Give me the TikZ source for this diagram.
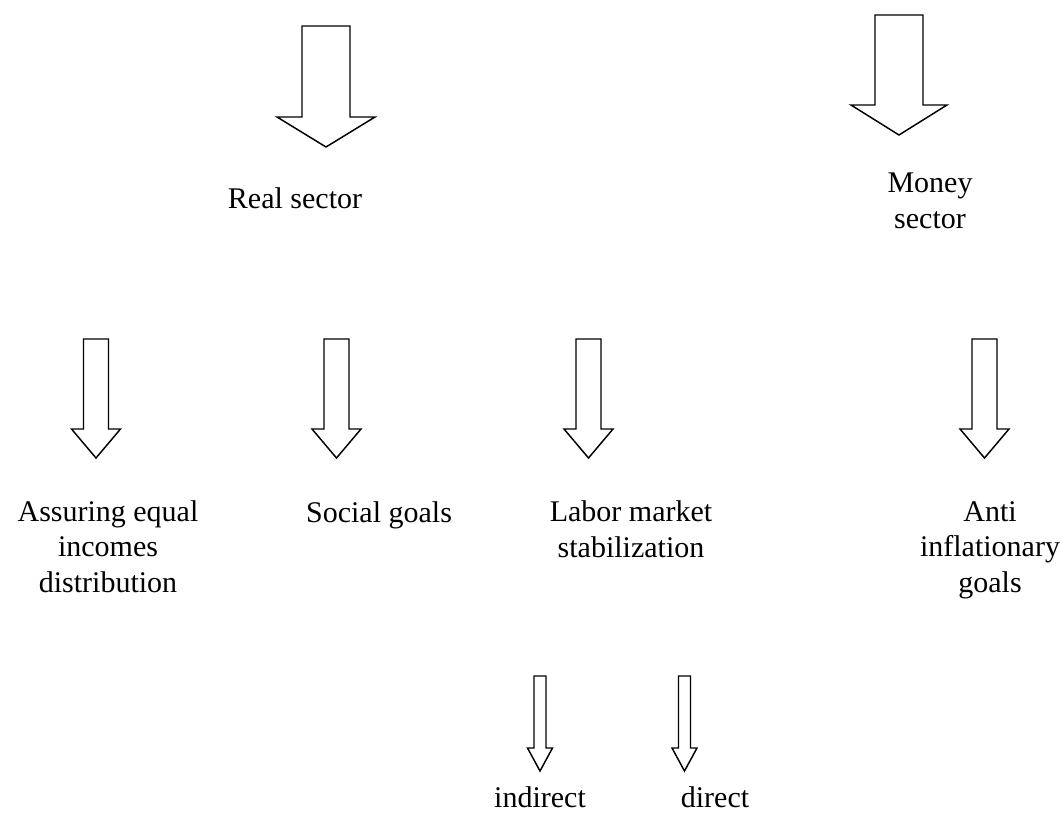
\documentclass[tikz,border=0pt]{standalone}
\usepackage{fontspec}
\setmainfont{Liberation Serif}
\usetikzlibrary{positioning}

% hollow arrow pointing down: x, top, shoulder, tip, shaft half width, head half width
\newcommand{\hollowdown}[6]{%
  \draw [hollow] (#1-#5,#2) -- (#1+#5,#2) -- (#1+#5,#3) -- (#1+#6,#3)
    -- (#1,#4) -- (#1-#6,#3) -- (#1-#5,#3) -- cycle;}

\begin{document}
\begin{tikzpicture}[
    x = 0.75pt, y = -0.75pt,
    txt/.style = {align=center, anchor=base, inner sep=0pt,
                  font=\fontsize{22.5}{26.3}\selectfont},
    hollow/.style = {draw, line width=1.1pt, line join=miter, fill=white}
]
    \useasboundingbox (0,0) rectangle (1060,835);

    % Arrows
    \hollowdown{326}{26}{117}{147}{24}{49}
    \hollowdown{899}{15}{105}{135}{24}{48}
    \hollowdown{96}{339}{429}{458}{12.5}{24.5}
    \hollowdown{336.5}{339}{429}{458}{12.5}{24.5}
    \hollowdown{588.5}{339}{429}{458}{12.5}{24.5}
    \hollowdown{984.5}{339}{429}{458}{12.5}{24.5}
    \hollowdown{540}{676}{748}{771}{6}{12.5}
    \hollowdown{684.5}{676}{748}{771}{6}{12.5}

    % Nodes (anchored at the baseline of the last line)
    \node [txt] (real) at (295,208) {Real sector};
    \node [txt] (money) at (930,228) {Money\\sector};
    \node [txt] (equal) at (108,592) {Assuring equal\\incomes\\distribution};
    \node [txt] (social) at (379,522) {Social goals};
    \node [txt] (labor) at (631,557) {Labor market\\stabilization};
    \node [txt] (anti) at (990,592) {Anti\\inflationary\\goals};
    \node [txt] (indirect) at (540,807) {indirect};
    \node [txt] (direct) at (715,807) {direct};

\end{tikzpicture}
\end{document}
